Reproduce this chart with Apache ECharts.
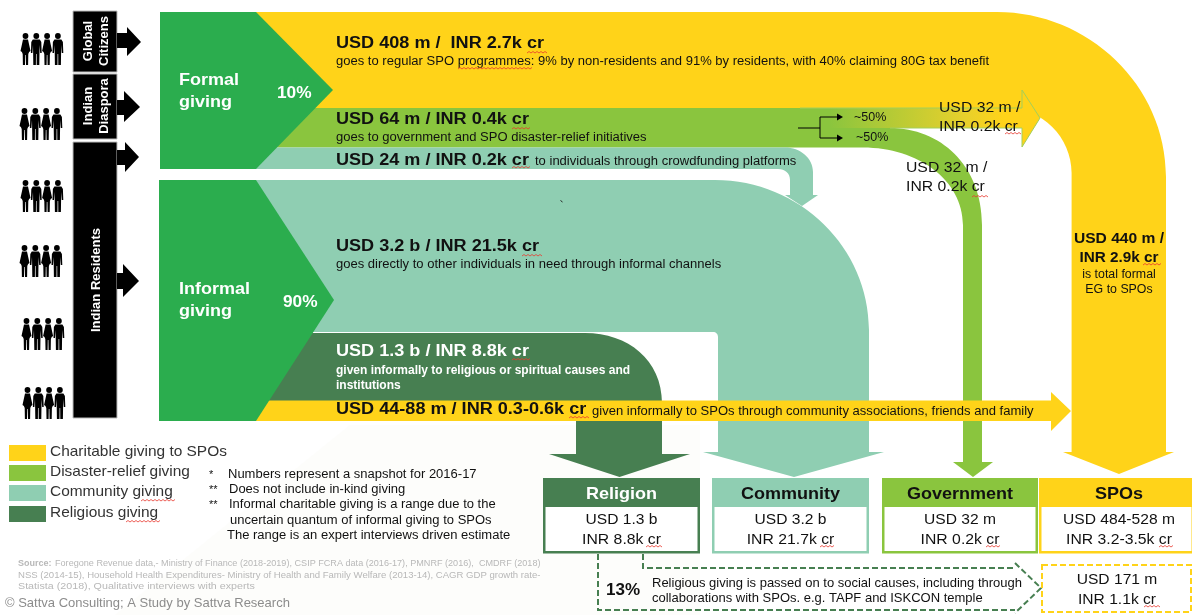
<!DOCTYPE html>
<html>
<head>
<meta charset="utf-8">
<title>Everyday giving flows</title>
<script src="https://cdn.jsdelivr.net/npm/echarts@6/dist/echarts.min.js"></script>
<style>
html, body { margin: 0; padding: 0; background: #fff; }
#main { width: 1192px; height: 615px; }
</style>
</head>
<body>
<div id="main"></div>
<script>
// texts and figures
var donorGroups = [['Global', 'Citizens'], ['Indian', 'Diaspora'], ['Indian Residents']];
var sourceNames = [['Formal', 'giving'], ['Informal', 'giving']];
var sourceShares = ['10%', '90%'];
var flowAmounts = [
  'USD 408 m /  INR 2.7k cr',
  'USD 64 m / INR 0.4k cr',
  'USD 24 m / INR 0.2k cr',
  'USD 3.2 b / INR 21.5k cr',
  'USD 1.3 b / INR 8.8k cr',
  'USD 44-88 m / INR 0.3-0.6k cr'
];
var flowNotes = [
  'goes to regular SPO programmes: 9% by non-residents and 91% by residents, with 40% claiming 80G tax benefit',
  'goes to government and SPO disaster-relief initiatives',
  'to individuals through crowdfunding platforms',
  'goes directly to other individuals in need through informal channels',
  'given informally to religious or spiritual causes and',
  'institutions',
  'given informally to SPOs through community associations, friends and family'
];
var splitShares = ['~50%', '~50%'];
var splitAmount = ['USD 32 m /', 'INR 0.2k cr'];
var spoTotal = ['USD 440 m /', 'INR 2.9k cr', 'is total formal', 'EG to SPOs'];
var destinations = ['Religion', 'Community', 'Government', 'SPOs'];
var destinationUsd = ['USD 1.3 b', 'USD 3.2 b', 'USD 32 m', 'USD 484-528 m'];
var destinationInr = ['INR 8.8k cr', 'INR 21.7k cr', 'INR 0.2k cr', 'INR 3.2-3.5k cr'];
var passedShare = '13%';
var passedNote = ['Religious giving is passed on to social causes, including through', 'collaborations with SPOs. e.g. TAPF and ISKCON temple'];
var passedAmount = ['USD 171 m', 'INR 1.1k cr'];
var legendNames = ['Charitable giving to SPOs', 'Disaster-relief giving', 'Community giving', 'Religious giving'];
var footMarks = ['*', '**', '**'];
var footNotes = [
  'Numbers represent a snapshot for 2016-17',
  'Does not include in-kind giving',
  'Informal charitable giving is a range due to the',
  'uncertain quantum of informal giving to SPOs',
  'The range is an expert interviews driven estimate'
];
var sourceLines = [
  'Foregone Revenue data,- Ministry of Finance (2018-2019), CSIP FCRA data (2016-17), PMNRF (2016),  CMDRF (2018)',
  'NSS (2014-15), Household Health Expenditures- Ministry of Health and Family Welfare (2013-14), CAGR GDP growth rate-',
  'Statista (2018), Qualitative interviews with experts'
];
var credit = '© Sattva Consulting; A Study by Sattva Research';

var YELLOW = '#ffd319', LIME = '#8ac53e', TEAL = '#8fceb2', DARK = '#477f51', GREEN = '#2bad4e';
var FONT = '"Liberation Sans", Arial, sans-serif';

// everything is placed on a hidden axis pair that runs 1:1 with the page
var marks = [];
function path(d, fill, extra) {
  var m = { t: 'path', d: d, fill: fill };
  for (var k in extra) m[k] = extra[k];
  marks.push(m);
}
function rect(x, y, w, h, fill, extra) {
  path('M' + x + ' ' + y + ' L' + (x + w) + ' ' + y + ' L' + (x + w) + ' ' + (y + h) + ' L' + x + ' ' + (y + h) + ' Z', fill, extra);
}
function text(s, x, y, size, opt) {
  opt = opt || {};
  marks.push({ t: 'text', s: s, x: x, y: y, size: size, bold: opt.bold, color: opt.color || '#111', align: opt.align || 'left', rot: opt.rot || 0, sx: opt.sx || 1 });
}
// red spell-check underline
function squiggle(x, y, w) {
  var d = 'M' + x + ' ' + y, up = true;
  for (var i = 2; i <= w; i += 2) { d += ' L' + (x + i) + ' ' + (y + (up ? -1.5 : 0)); up = !up; }
  path(d, 'none', { stroke: '#e8392f', lineWidth: 0.8 });
}
function people(ox, oy) {
  var woman = [[-2.5,6.5],[2.5,6.5],[5,18],[3.6,19],[2.8,21],[2.6,32],[0.5,32],[0.3,22],[-0.3,22],[-0.5,32],[-2.6,32],[-2.8,21],[-3.6,19],[-5,18]];
  var man = [[-3.5,6.5],[3.5,6.5],[5,9],[5.4,20],[3.9,20],[3.3,12],[3,32],[0.4,32],[0.3,21],[-0.3,21],[-0.4,32],[-3,32],[-3.3,12],[-3.9,20],[-5.4,20],[-5,9]];
  for (var i = 0; i < 4; i++) {
    var cx = ox + 5.5 + i * 10.8, body = i % 2 ? man : woman;
    marks.push({ t: 'dot', x: cx, y: oy + 3, r: 2.9, fill: '#000' });
    path('M' + body.map(function (p) { return (cx + p[0]) + ' ' + (oy + p[1]); }).join(' L') + ' Z', '#000');
  }
}

// very pale wash behind the footer
path('M350 425 L700 425 L700 615 L115 615 Z', '#fdfdfb');

// people rows
[[20, 33], [19, 108], [20, 180], [19, 245], [21, 318], [22, 387]].forEach(function (p) { people(p[0], p[1]); });

// donor bars and their arrows
rect(73, 11, 44, 61, '#000', { stroke: '#bbb', lineWidth: 1 });
rect(73, 74, 44, 65, '#000', { stroke: '#bbb', lineWidth: 1 });
rect(73, 142, 44, 276, '#000', { stroke: '#bbb', lineWidth: 1 });
path('M117 33 L127 33 L127 27 L141 42 L127 56 L127 48 L117 48 Z', '#000');
path('M117 100 L124 100 L124 91 L140 107 L124 122 L124 115 L117 115 Z', '#000');
path('M117 150 L125 150 L125 142 L139 157 L125 172 L125 165 L117 165 Z', '#000');
path('M117 273 L123 273 L123 264 L139 281 L123 297 L123 289 L117 289 Z', '#000');
text(donorGroups[0][0], 88, 41, 13, { bold: true, color: '#fff', align: 'center', rot: 90 });
text(donorGroups[0][1], 104, 41, 13, { bold: true, color: '#fff', align: 'center', rot: 90 });
text(donorGroups[1][0], 88, 106, 13, { bold: true, color: '#fff', align: 'center', rot: 90 });
text(donorGroups[1][1], 104, 106, 13, { bold: true, color: '#fff', align: 'center', rot: 90 });
text(donorGroups[2][0], 96, 280, 13, { bold: true, color: '#fff', align: 'center', rot: 90 });

// flows, back to front
path('M256 12 L997 12 C1088 12 1166 85 1166 177 L1166 452 L1174 452 L1119 474 L1063 452 L1071.6 452 L1071.6 173 C1071.6 137 1042 108 1006 108 L256 108 Z', YELLOW);
path('M256 108 L810 108 L810 128 L890 128 C940 128 982 165 982 225 L982 462 L993 462 L973 477 L953 462 L963 462 L963 225 C963 180 918 147.5 863 147.5 L256 147.5 Z', LIME);
path('M800 108 L1022 108 L1022 90 L1040 118 L1022 147 L1022 128 L800 128 Z', 'split');
path('M800 108 L1022 108 L1022 90 L1040 118 L1022 147 L1022 128 L890 128', 'none', { stroke: '#a3cf5a', lineWidth: 1 });
path('M256 147.5 L785 147.5 C800 147.5 813 158 813 172 L813 195 L818 195 L802 206 L785 195 L790 195 L790 180 C790 173 785 169 778 169 L256 169 Z', TEAL);
path('M256 180 L715 180 C800 180 869 248 869 330 L869 452 L884 452 L794 477 L703 452 L718 452 L718 337 C718 334 716 332 713 332 L256 332 Z', TEAL);
path('M256 333 L585 333 C628 333 662 360 662 403 L662 454 L690 454 L619.5 477 L549 454 L576 454 L576 421 L256 421 Z', DARK);
path('M256 400.5 L1051 400.5 L1051 392 L1071 411 L1051 431 L1051 421 L256 421 Z', YELLOW);
path('M560.5 200.5 L562.5 202', 'none', { stroke: '#222', lineWidth: 1 });

// source chevrons
path('M160 12 L256 12 L333 90 L256 169 L160 169 Z', GREEN);
path('M159 180 L256 180 L334 300 L256 421 L159 421 Z', GREEN);
text(sourceNames[0][0], 179, 80, 17, { bold: true, color: '#fff', sx: 1.06 });
text(sourceNames[0][1], 179, 102, 17, { bold: true, color: '#fff', sx: 1.06 });
text(sourceShares[0], 277, 94, 16, { bold: true, color: '#fff', sx: 1.08 });
text(sourceNames[1][0], 179, 289, 17, { bold: true, color: '#fff', sx: 1.06 });
text(sourceNames[1][1], 179, 311, 17, { bold: true, color: '#fff', sx: 1.06 });
text(sourceShares[1], 283, 303, 16, { bold: true, color: '#fff', sx: 1.08 });

// flow labels
var AMT = { bold: true, sx: 1.13 };
text(flowAmounts[0], 336, 44, 16, AMT);
text(flowNotes[0], 336, 62, 12.5, { sx: 1.042 });
text(flowAmounts[1], 336, 120, 16, AMT);
text(flowNotes[1], 336, 138, 12.5, { sx: 1.042 });
text(flowAmounts[2], 336, 161, 16, AMT);
text(flowNotes[2], 535, 162, 12.5, { sx: 1.042 });
text(flowAmounts[3], 336, 247, 16, AMT);
text(flowNotes[3], 336, 265, 12.5, { sx: 1.042 });
text(flowAmounts[4], 336, 352, 16, { bold: true, color: '#fff', sx: 1.13 });
text(flowNotes[4], 336, 371, 12, { bold: true, color: '#fff' });
text(flowNotes[5], 336, 386, 12, { bold: true, color: '#fff' });
text(flowAmounts[5], 336, 410, 16, AMT);
text(flowNotes[6], 592, 412, 12.5, { sx: 1.042 });

// disaster-relief split
path('M798 128 L820 128 M820 117 L820 138 M820 117 L838 117 M820 138 L838 138', 'none', { stroke: '#000', lineWidth: 1 });
path('M837 113.5 L843 117 L837 120.5 Z', '#000');
path('M837 134.5 L843 138 L837 141.5 Z', '#000');
text(splitShares[0], 854, 118, 12.5);
text(splitShares[1], 856, 138, 12.5);
text(splitAmount[0], 939, 108, 15, { sx: 1.05 });
text(splitAmount[1], 939, 127, 15, { sx: 1.05 });
text(splitAmount[0], 906, 168, 15, { sx: 1.05 });
text(splitAmount[1], 906, 187, 15, { sx: 1.05 });

text(spoTotal[0], 1119, 239, 15, { bold: true, align: 'center', sx: 1.04 });
text(spoTotal[1], 1119, 258, 15, { bold: true, align: 'center', sx: 1.02 });
text(spoTotal[2], 1119, 275, 12, { align: 'center', sx: 1.03 });
text(spoTotal[3], 1119, 290, 12, { align: 'center', sx: 1.03 });

// destination boxes
var boxes = [[543, 157, DARK, '#fff'], [712, 157, TEAL, '#111'], [882, 156, LIME, '#111'], [1039, 155, YELLOW, '#111']];
boxes.forEach(function (b, i) {
  rect(b[0], 478, b[1], 75.5, b[2]);
  rect(b[0] + 2.5, 507, b[1] - 5, 44, '#fff');
  var cx = i == 3 ? 1119 : b[0] + b[1] / 2;
  text(destinations[i], cx, 494, 17, { bold: true, color: b[3], align: 'center', sx: 1.06 });
  text(destinationUsd[i], cx, 520, 15, { align: 'center', sx: 1.04 });
  text(destinationInr[i], cx, 540, 15, { align: 'center', sx: 1.05 });
});

// 13% passed on to SPOs
path('M598 554 L598 610 L1015 610 M643 554 L643 568 L1015 568 M1015 563 L1041 588 L1015 613', 'none', { stroke: DARK, lineWidth: 2, dash: [6, 3] });
text(passedShare, 606, 590, 17, { bold: true });
text(passedNote[0], 652, 583, 13);
text(passedNote[1], 652, 598, 13);
path('M1042 565 L1191 565 L1191 612 L1042 612 Z', 'none', { stroke: YELLOW, lineWidth: 2, dash: [6, 3] });
text(passedAmount[0], 1117, 580, 15, { align: 'center', sx: 1.04 });
text(passedAmount[1], 1117, 600, 15, { align: 'center', sx: 1.04 });

// legend
[YELLOW, LIME, TEAL, DARK].forEach(function (c, i) {
  rect(9, [445, 465, 485, 506][i], 37, 16, c);
  text(legendNames[i], 50, [452, 472, 492, 513][i], 15, { color: '#333', sx: 1.03 });
});

// footnotes
text(footMarks[0], 209, 475, 11);
text(footMarks[1], 209, 490, 11);
text(footMarks[2], 209, 505, 11);
text(footNotes[0], 228, 475, 12.5, { sx: 1.04 });
text(footNotes[1], 229, 490, 12.5, { sx: 1.04 });
text(footNotes[2], 229, 505, 12.5, { sx: 1.04 });
text(footNotes[3], 230, 521, 12.5, { sx: 1.04 });
text(footNotes[4], 227, 536, 12.5, { sx: 1.04 });
text('Source:', 18, 564, 9, { bold: true, color: '#b8b8b8' });
text(sourceLines[0], 55, 564, 9, { color: '#b8b8b8', sx: 1.01 });
text(sourceLines[1], 18, 576, 9, { color: '#b8b8b8', sx: 1.063 });
text(sourceLines[2], 18, 587, 9, { color: '#b8b8b8', sx: 1.19 });
text(credit, 5, 603, 13, { color: '#8c8c8c' });

// spell-check marks under the flagged words
[[527, 53, 20], [458, 69, 74], [512, 129, 18], [512, 168, 18], [522, 256, 20], [512, 360, 18], [569, 418, 20],
 [1005, 134, 16], [972, 197, 16], [1143, 265, 18], [646, 547, 16], [820, 547, 14], [986, 547, 14], [1159, 547, 14], [1144, 607, 16],
 [141, 501, 34], [126, 522, 34]].forEach(function (s) { squiggle(s[0], s[1], s[2]); });

function mapPath(d, api) {
  return d.replace(/(-?[\d.]+) (-?[\d.]+)/g, function (all, x, y) {
    var p = api.coord([+x, +y]);
    return p[0] + ' ' + p[1];
  });
}

var splitFill = new echarts.graphic.LinearGradient(0, 0, 1, 0, [
  { offset: 0, color: LIME },
  { offset: 0.12, color: LIME },
  { offset: 0.68, color: '#e6d02c' },
  { offset: 0.85, color: YELLOW },
  { offset: 1, color: YELLOW }
]);

function renderMark(params, api) {
  var m = marks[params.dataIndex], p;
  if (m.t == 'path') {
    return {
      type: 'path',
      z2: params.dataIndex,
      shape: { pathData: mapPath(m.d, api) },
      style: {
        fill: m.fill == 'split' ? splitFill : (m.fill == 'none' ? null : m.fill),
        stroke: m.stroke || null,
        lineWidth: m.lineWidth || 0,
        lineDash: m.dash || null
      }
    };
  }
  p = api.coord([m.x, m.y]);
  if (m.t == 'dot') {
    return { type: 'circle', z2: params.dataIndex, shape: { cx: p[0], cy: p[1], r: m.r }, style: { fill: m.fill } };
  }
  return {
    type: 'text',
    z2: params.dataIndex,
    x: p[0],
    y: p[1],
    scaleX: m.sx,
    rotation: m.rot * Math.PI / 180,
    style: {
      text: m.s,
      fill: m.color,
      font: (m.bold ? 'bold ' : '') + m.size + 'px ' + FONT,
      textAlign: m.align,
      textVerticalAlign: 'middle'
    }
  };
}

var chart = echarts.init(document.getElementById('main'));
chart.setOption({
  animation: false,
  backgroundColor: '#fff',
  grid: { left: 0, right: 0, top: 0, bottom: 0 },
  xAxis: { type: 'value', min: 0, max: 1192, show: false },
  yAxis: { type: 'value', min: 0, max: 615, inverse: true, show: false },
  tooltip: { show: false },
  series: [{
    type: 'custom',
    silent: true,
    clip: false,
    coordinateSystem: 'cartesian2d',
    renderItem: renderMark,
    data: marks.map(function (m, i) { return [i, 0]; })
  }]
});
</script>
</body>
</html>
